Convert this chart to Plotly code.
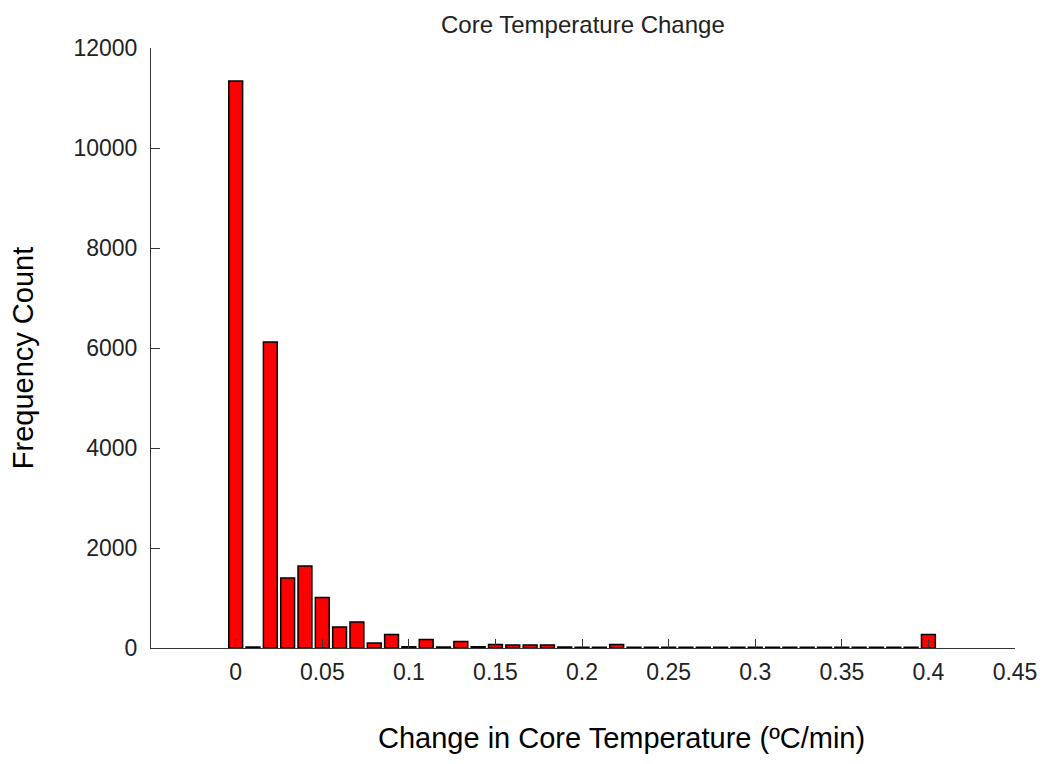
import plotly.graph_objects as go

# Data
bin_centers = [round(i * 0.01, 2) for i in range(41)]
counts = [11340, 20, 6120, 1400, 1640, 1010, 420, 520, 100, 270,
          25, 170, 20, 130, 25, 70, 60, 60, 60, 20,
          15, 15, 70, 15, 15, 15, 15, 15, 15, 15,
          15, 15, 15, 15, 15, 15, 15, 15, 15, 15,
          270]
x_tick_vals = [0, 0.05, 0.1, 0.15, 0.2, 0.25, 0.3, 0.35, 0.4, 0.45]
x_tick_text = ["0", "0.05", "0.1", "0.15", "0.2", "0.25", "0.3", "0.35", "0.4", "0.45"]
y_tick_vals = [0, 2000, 4000, 6000, 8000, 10000, 12000]
y_tick_text = ["0", "2000", "4000", "6000", "8000", "10000", "12000"]

FONT = "Liberation Sans, Arial, sans-serif"

fig = go.Figure()
fig.add_trace(go.Bar(
    x=bin_centers, y=counts, width=0.008,
    marker=dict(color="#FF0000", line=dict(color="black", width=1.5)),
))

fig.update_layout(
    width=1049, height=764,
    margin=dict(l=151, r=30, t=48, b=116),
    paper_bgcolor="white", plot_bgcolor="white",
    showlegend=False,
    font=dict(family=FONT, color="#222"),
    xaxis=dict(
        range=[-0.0489, 0.45], tickvals=x_tick_vals, ticktext=x_tick_text,
        ticks="inside", ticklen=9, tickcolor="#333", tickwidth=1,
        showline=True, linecolor="#333", linewidth=1, mirror=False,
        showgrid=False, zeroline=False, ticklabelstandoff=3,
        tickfont=dict(family=FONT, size=23, color="#222"),
    ),
    yaxis=dict(
        range=[0, 12000], tickvals=y_tick_vals, ticktext=y_tick_text,
        ticks="inside", ticklen=9, tickcolor="#333", tickwidth=1,
        showline=True, linecolor="#333", linewidth=1, mirror=False,
        showgrid=False, zeroline=False, ticklabelstandoff=8,
        tickfont=dict(family=FONT, size=23, color="#222"),
    ),
    annotations=[
        dict(text="Core Temperature Change", xref="paper", yref="paper",
             x=0.5, y=1, yshift=24, xanchor="center", yanchor="middle",
             showarrow=False, font=dict(family=FONT, size=24, color="#222")),
        dict(text="Frequency Count", xref="paper", yref="paper",
             x=0, xshift=-128, y=0.483, textangle=-90,
             xanchor="center", yanchor="middle",
             showarrow=False, font=dict(family=FONT, size=29, color="black")),
        dict(text="Change in Core Temperature (ºC/min)", xref="paper", yref="paper",
             x=0.5, xshift=38, y=0, yshift=-90, xanchor="center", yanchor="middle",
             showarrow=False, font=dict(family=FONT, size=29, color="black")),
    ],
)

fig.write_html("out.html")
